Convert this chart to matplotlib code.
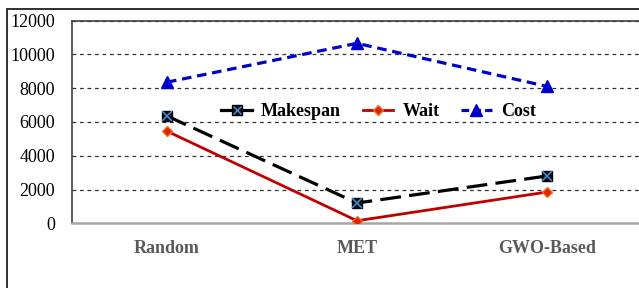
import matplotlib
matplotlib.use("Agg")
import matplotlib.pyplot as plt
from matplotlib.lines import Line2D
from matplotlib.patches import Rectangle

categories = ["Random", "MET", "GWO-Based"]
makespan = [6350, 1200, 2800]
wait = [5450, 150, 1850]
cost = [8350, 10650, 8100]
yticks = [0, 2000, 4000, 6000, 8000, 10000, 12000]

plt.rcParams['font.family'] = ['Liberation Serif', 'DejaVu Serif']

W, H = 639, 288
fig = plt.figure(figsize=(W/100, H/100), dpi=100)
fig.patch.set_facecolor('white')

# outer frame
fig.add_artist(Rectangle((7/W, -0.1), 1.2, (288-9)/H + 0.1, transform=fig.transFigure,
                         fill=False, edgecolor='#202020', linewidth=1.3))

ax = fig.add_axes([72/W, (288-223.3)/H, 570/W, (223.3-20.5)/H])
x = list(range(len(categories)))

ax.plot(x, cost, color='#0000cc', linewidth=2.3, linestyle=(0, (3.0, 1.8)),
        marker='^', markersize=9, markerfacecolor='#0000cc', markeredgecolor='#0000cc', zorder=3)
ax.plot(x, makespan, color='black', linewidth=2.3, linestyle=(0, (6.5, 2.6)),
        marker='s', markersize=7.5, markerfacecolor='#101018', markeredgecolor='black', zorder=3)
ax.plot(x, makespan, linestyle='none', marker='x', markersize=6.5, markeredgecolor='#4a8ad0',
        markeredgewidth=1.1, zorder=4)
ax.plot(x, wait, color='#c00000', linewidth=2.0, linestyle='-',
        marker='D', markersize=5.5, markerfacecolor='#e02000', markeredgecolor='#f07020', zorder=3)

ax.set_xlim(-0.5, 2.5)
ax.set_ylim(0, 12000)
ax.set_yticks(yticks)
ax.set_yticklabels([str(v) for v in yticks], fontsize=13, color='black')
ax.set_xticks(x)
ax.set_xticklabels(categories, fontsize=13, fontweight='bold', color='#595959')
ax.tick_params(axis='y', length=0, pad=12)
ax.tick_params(axis='x', length=0, pad=12)

for v in yticks[1:]:
    ax.axhline(v, color='#303030', linewidth=0.9, linestyle=(0, (3, 3)), zorder=1)

for s in ['left', 'top']:
    ax.spines[s].set_color('#404040')
    ax.spines[s].set_linewidth(1.2)
ax.spines['right'].set_visible(False)
ax.spines['bottom'].set_color('#a6a6a6')
ax.spines['bottom'].set_linewidth(1.8)

h_mk = (Line2D([], [], color='black', linewidth=2.3, marker='s', markersize=6.5,
               markerfacecolor='#101018', markeredgecolor='black'),
        Line2D([], [], linestyle='none', marker='x', markersize=5.5, markeredgecolor='#4a8ad0',
               markeredgewidth=1.0))
h_w = Line2D([], [], color='#c00000', linewidth=2.0, marker='D', markersize=5,
             markerfacecolor='#e02000', markeredgecolor='#f07020')
h_c = Line2D([], [], color='#0000cc', linewidth=2.3, linestyle=(0, (2.4, 1.3)), marker='^',
             markersize=8, markerfacecolor='#0000cc', markeredgecolor='#0000cc')
leg = ax.legend([h_mk, h_w, h_c], ['Makespan', 'Wait', 'Cost'], ncol=3, frameon=False,
                loc='center', bbox_to_anchor=(0.5377, 0.549),
                prop={'size': 13, 'weight': 'bold'}, handlelength=1.7,
                handletextpad=0.5, columnspacing=1.2, borderpad=0)

fig.savefig('out.png', dpi=100, facecolor='white')
